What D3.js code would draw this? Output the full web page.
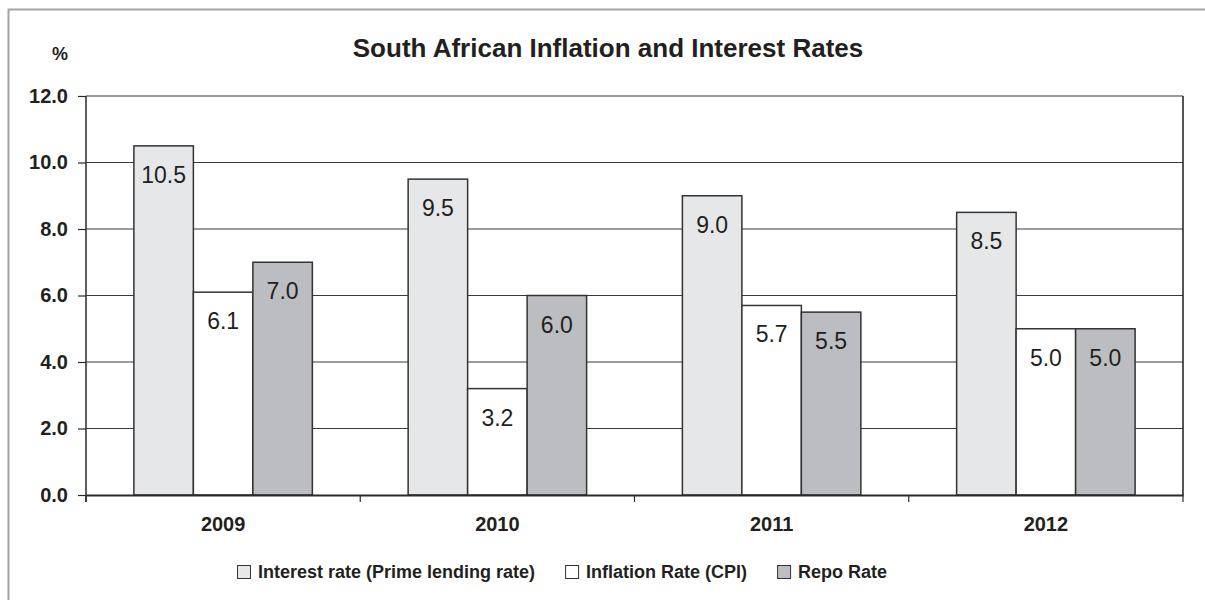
<!DOCTYPE html>
<html>
<head>
<meta charset="utf-8">
<script src="https://cdn.jsdelivr.net/npm/d3@7"></script>
<style>
  body { margin: 0; background: #fff; }
  svg { display: block; font-family: "Liberation Sans", Arial, sans-serif; }
</style>
</head>
<body>
<div id="chart"></div>
<script>
// --- data ---
const years = ["2009", "2010", "2011", "2012"];
const primeRate = [10.5, 9.5, 9.0, 8.5];
const inflationRate = [6.1, 3.2, 5.7, 5.0];
const repoRate = [7.0, 6.0, 5.5, 5.0];
const yTicks = [0, 2, 4, 6, 8, 10, 12];

const seriesList = [
  { key: "prime", label: "Interest rate (Prime lending rate)", values: primeRate, color: "#e6e7e9" },
  { key: "cpi", label: "Inflation Rate (CPI)", values: inflationRate, color: "#ffffff" },
  { key: "repo", label: "Repo Rate", values: repoRate, color: "#bcbdc0" }
];

const W = 1205, H = 600;
const ink = "#231f20";
const plot = { left: 86, right: 1183, top: 96, bottom: 495 };

const svg = d3.select("#chart").append("svg")
  .attr("width", W)
  .attr("height", H);

// outer frame (only top/left visible in the crop)
svg.append("rect")
  .attr("x", 8.5).attr("y", 9.5)
  .attr("width", W + 20).attr("height", H + 20)
  .attr("fill", "none")
  .attr("stroke", "#a3a3a3")
  .attr("stroke-width", 2);

// scales
const x = d3.scaleBand().domain(years).range([plot.left, plot.right]).padding(0);
const x1 = d3.scaleBand().domain(seriesList.map(s => s.key))
  .range([0, x.bandwidth()]).paddingInner(0).paddingOuter(0.805);
const y = d3.scaleLinear().domain([0, 12]).range([plot.bottom, plot.top]);

// gridlines
svg.append("g")
  .selectAll("line")
  .data(yTicks.filter(d => d > 0))
  .join("line")
  .attr("x1", plot.left).attr("x2", plot.right)
  .attr("y1", d => y(d)).attr("y2", d => y(d))
  .attr("stroke", "#3a3a3a")
  .attr("stroke-width", 1.2);

// right border of plot area
svg.append("line")
  .attr("x1", plot.right).attr("x2", plot.right)
  .attr("y1", plot.top).attr("y2", plot.bottom)
  .attr("stroke", "#2a2a2a")
  .attr("stroke-width", 1.6);

// bars
const rows = years.map((yr, i) => ({
  year: yr,
  segs: seriesList.map(s => ({ key: s.key, value: s.values[i], color: s.color }))
}));

const groups = svg.append("g")
  .selectAll("g")
  .data(rows)
  .join("g")
  .attr("transform", d => `translate(${x(d.year)},0)`);

groups.selectAll("rect")
  .data(d => d.segs)
  .join("rect")
  .attr("x", d => x1(d.key))
  .attr("width", x1.bandwidth())
  .attr("y", d => y(d.value))
  .attr("height", d => y(0) - y(d.value))
  .attr("fill", d => d.color)
  .attr("stroke", "#333")
  .attr("stroke-width", 1.5);

groups.selectAll("text")
  .data(d => d.segs)
  .join("text")
  .attr("x", d => x1(d.key) + x1.bandwidth() / 2)
  .attr("y", d => y(d.value) + 37)
  .attr("text-anchor", "middle")
  .attr("font-size", "23px")
  .attr("fill", ink)
  .text(d => d.value.toFixed(1));

// y axis
const yAxis = svg.append("g")
  .attr("transform", `translate(${plot.left},0)`)
  .call(d3.axisLeft(y).tickValues(yTicks).tickFormat(d3.format(".1f")).tickSize(8).tickPadding(10));
yAxis.select(".domain").attr("stroke", "#2a2a2a").attr("stroke-width", 1.5)
  .attr("d", `M0,${plot.top}V${plot.bottom + 7}`);
yAxis.selectAll(".tick line").attr("stroke", "#2a2a2a").attr("stroke-width", 1.2);
yAxis.selectAll(".tick text")
  .attr("font-size", "20px").attr("font-weight", "bold")
  .attr("fill", ink).attr("font-family", "Liberation Sans, Arial, sans-serif");

// x axis
const xAxis = svg.append("g")
  .attr("transform", `translate(0,${plot.bottom})`)
  .call(d3.axisBottom(x).tickSize(0).tickPadding(22));
xAxis.select(".domain").attr("stroke", "#2a2a2a").attr("stroke-width", 2);
xAxis.selectAll(".tick text")
  .attr("font-size", "20px").attr("font-weight", "bold")
  .attr("fill", ink).attr("font-family", "Liberation Sans, Arial, sans-serif");

// category boundary ticks
svg.append("g")
  .selectAll("line")
  .data(years.concat(["end"]))
  .join("line")
  .attr("x1", (d, i) => i < years.length ? x(d) : plot.right)
  .attr("x2", (d, i) => i < years.length ? x(d) : plot.right)
  .attr("y1", plot.bottom).attr("y2", plot.bottom + 7)
  .attr("stroke", "#2a2a2a")
  .attr("stroke-width", 1.2);

// title + unit
svg.append("text")
  .attr("x", 608).attr("y", 57)
  .attr("text-anchor", "middle")
  .attr("font-size", "26px").attr("font-weight", "bold")
  .attr("fill", ink)
  .text("South African Inflation and Interest Rates");

svg.append("text")
  .attr("x", 68).attr("y", 60)
  .attr("text-anchor", "end")
  .attr("font-size", "18px").attr("font-weight", "bold")
  .attr("fill", ink)
  .text("%");

// legend
const legend = svg.append("g").attr("transform", "translate(237,565)");
let lx = 0;
seriesList.forEach(s => {
  const item = legend.append("g").attr("transform", `translate(${lx},0)`);
  item.append("rect")
    .attr("x", 0.5).attr("y", 0.5)
    .attr("width", 13).attr("height", 13)
    .attr("fill", s.color)
    .attr("stroke", "#333").attr("stroke-width", 1);
  const t = item.append("text")
    .attr("x", 21).attr("y", 12.5)
    .attr("font-size", "18px").attr("font-weight", "bold")
    .attr("fill", ink)
    .text(s.label);
  lx += 21 + t.node().getComputedTextLength() + 30;
});
</script>
</body>
</html>
